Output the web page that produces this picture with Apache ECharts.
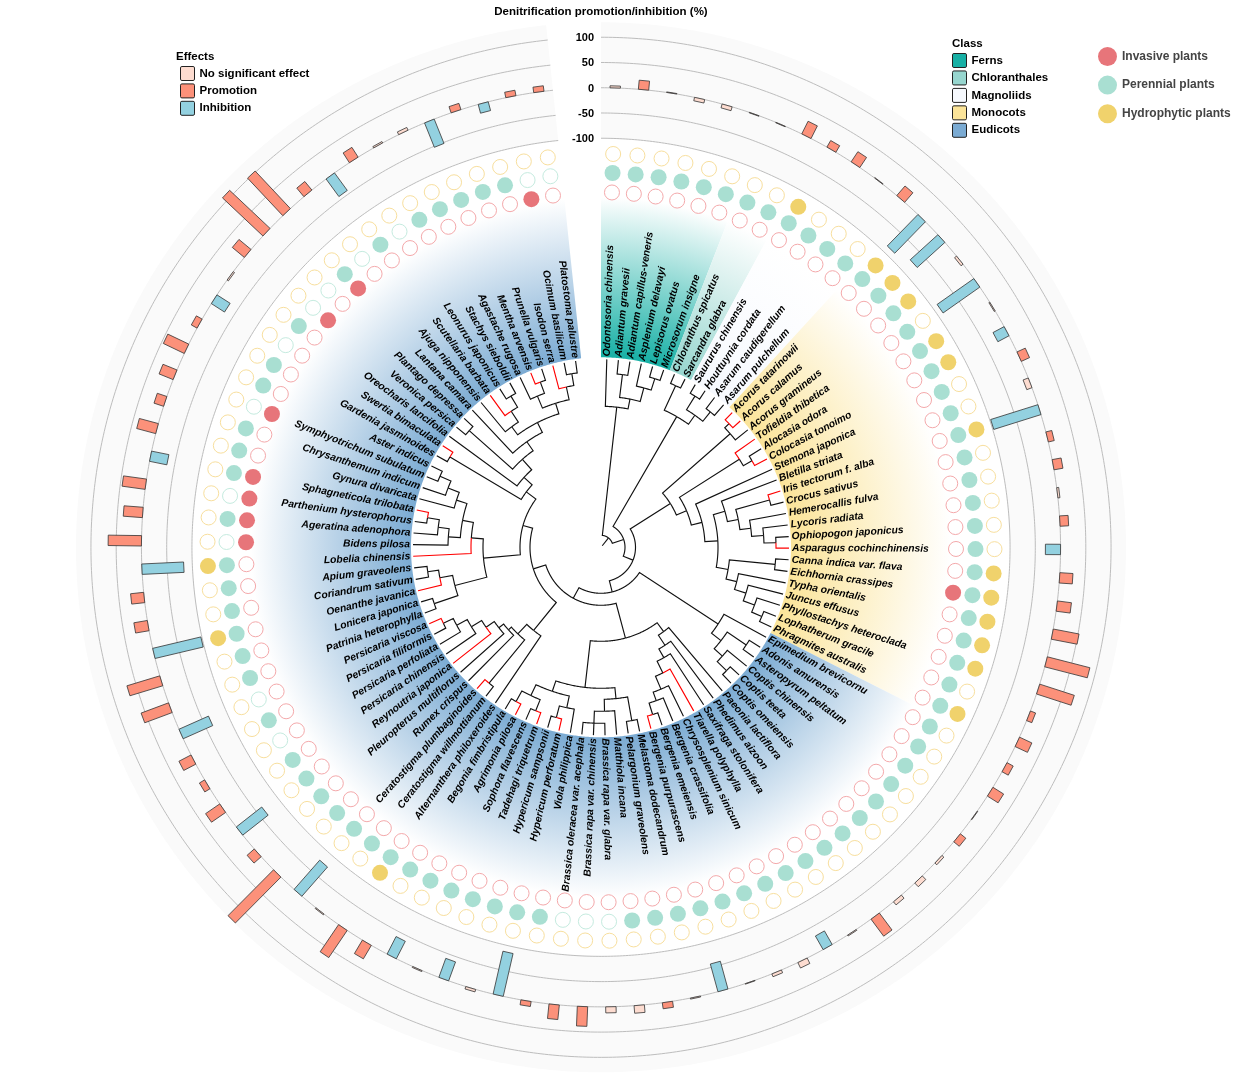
<!DOCTYPE html>
<html><head><meta charset="utf-8">
<style>html,body{margin:0;padding:0;background:#fff}#c{width:1258px;height:1074px}</style>
<script src="https://cdn.jsdelivr.net/npm/echarts@6/dist/echarts.min.js"></script>
</head><body><div id="c"></div>
<script>
const ferns=['Odontosoria chinensis','Adiantum gravesii','Adiantum capillus-veneris','Asplenium delavayi','Lepisorus ovatus','Microsorum insigne'];
const chloranthales=['Chloranthus spicatus','Sarcandra glabra'];
const magnoliids=['Saururus chinensis','Houttuynia cordata','Asarum caudigerellum','Asarum pulchellum'];
const monocots=['Acorus tatarinowii','Acorus calamus','Acorus gramineus','Tofieldia thibetica','Alocasia odora','Colocasia tonoimo','Stemona japonica','Bletilla striata','Iris tectorum f. alba','Crocus sativus','Hemerocallis fulva','Lycoris radiata','Ophiopogon japonicus','Asparagus cochinchinensis','Canna indica var. flava','Eichhornia crassipes','Typha orientalis','Juncus effusus','Phyllostachys heteroclada','Lophatherum gracile','Phragmites australis'];
const eudicots=['Epimedium brevicornu','Adonis amurensis','Asteropyrum peltatum','Coptis chinensis','Coptis teeta','Coptis omeiensis','Paeonia lactiflora','Phedimus aizoon','Saxifraga stolonifera','Tiarella polyphylla','Chrysosplenium sinicum','Bergenia crassifolia','Bergenia emeiensis','Bergenia purpurascens','Melastoma dodecandrum','Pelargonium graveolens','Matthiola incana','Brassica rapa var. glabra','Brassica rapa var. chinensis','Brassica oleracea var. acephala','Viola philippica','Hypericum perforatum','Hypericum sampsonii','Tadehagi triquetrum','Sophora flavescens','Agrimonia pilosa','Begonia fimbristipula','Alternanthera philoxeroides','Ceratostigma willmottianum','Ceratostigma plumbaginoides','Rumex crispus','Pleuropterus multiflorus','Reynoutria japonica','Persicaria chinensis','Persicaria perfoliata','Persicaria filiformis','Persicaria viscosa','Patrinia heterophylla','Lonicera japonica','Oenanthe javanica','Coriandrum sativum','Apium graveolens','Lobelia chinensis','Bidens pilosa','Ageratina adenophora','Parthenium hysterophorus','Sphagneticola trilobata','Gynura divaricata','Chrysanthemum indicum','Symphyotrichum subulatum','Aster indicus','Gardenia jasminoides','Swertia bimaculata','Oreocharis lancifolia','Veronica persica','Plantago depressa','Lantana camara','Ajuga nipponensis','Scutellaria barbata','Leonurus japonicus','Stachys sieboldii','Agastache rugosa','Mentha arvensis','Prunella vulgaris','Isodon serra','Ocimum basilicum','Platostoma palustre'];

// denitrification effect (%) per taxon
const effectValues=[4,18,1,-7,-8,-1,-1,28,15,24,1,25,-87,-74,-5,-89,-2,-25,18,-11,-98,12,18,4,17,-30,26,28,52,87,72,11,27,14,25,1,14,5,10,8,42,2,-31,12,6,1,-57,2,12,15,12,39,29,10,-87,5,-40,2,-39,31,65,2,-77,128,19,-64,34,12,27,-64,58,68,-98,27,26,-83,66,38,46,-35,39,20,30,46,13,-31,-3,31,110,102,22,-43,23,3,6,-52,13,-18,11,11];
const noEffect=[0,2,3,4,5,6,10,14,16,19,23,35,37,38,39,41,43,44,45,47,49,50,55,57,61,86,93,94];
const inhibited=[12,13,15,17,20,25,42,46,54,56,58,62,65,69,72,75,79,85,91,95,97];

const invasive=[27,76,77,78,79,82,87,89,98];
const notPerennial=[50,51,52,67,69,76,78,82,85,87,88,90,92,98,99];
const hydrophytic=[8,12,13,14,16,17,20,26,27,28,29,30,32,60,72,75];
const gridValues=[-100,-50,0,50,100];

// phylogeny: [node depth, ...children]; an integer child is a taxon index
const treeRoot=[12,
 [141,0,[151,[174,1,2],[165,3,[177,4,5]]]],
 [24,
  [151,[178,6,7],[162,[178,8,9],[174,10,11]]],
  [34.5,
   [82,
    [172,[178,12,13],14],
    [93,
     [164,15,[174,16,17]],
     [104,18,
      [117,
       [129,19,[140,[175,20,21],[151,22,[163,23,[175,24,25]]]]],
       [129,[175,26,27],[140,28,[152,29,[164,30,[175,31,32]]]]]
      ]]]],
   [46,
    [140,33,[152,[175,34,35],[163,36,[176,37,38]]]],
    [58,
     [94,
      [105,39,[117,40,[127,41,[140,42,[154,43,[163,44,[175,45,46]]]]]]],
      [141,
       [152,[176,47,48],[164,49,[176,50,51,52]]],
       [152,[164,53,[176,54,55]],[164,[176,56,57],[176,58,59]]]
      ]],
     [71,
      [107,60,[120,[176,61,62],[124,63,[130,64,[140,65,[152,66,[164,67,[175,68,69]]]]]]]],
      [81,
       [118,
        [151,[176,70,71],[164,72,[175,73,74]]],
        [130,75,[141,[153,76,[164,77,[176,78,79]]],[152,80,[164,81,[176,82,83]]]]]
       ],
       [93,[176,84,85],[104,86,[118,[176,87,88],[129,89,[140,[150,90,[163,91,[176,92,93]]],[151,[164,94,[176,95,96]],[164,97,[176,98,99]]]]]]]]
      ]]]]]]];
const redBranches=[12,13,15,17,20,25,42,46,54,56,58,62,65,69,72,75,79,85,91,95,97];

const taxa=[...ferns,...chloranthales,...magnoliids,...monocots,...eudicots];
const N=taxa.length, SLOTS=N*360/354;
const TIP=188, LABEL=191, CIRC=[355,374.5,393.5], WEDGE=[190,350];
const FILL={Ferns:'#17b0a5',Chloranthales:'#97d6cf',Magnoliids:'#f6f9fe',Monocots:'#fbe499',Eudicots:'#7babd3'};
const groups=[['Ferns',ferns],['Chloranthales',chloranthales],['Magnoliids',magnoliids],['Monocots',monocots],['Eudicots',eudicots]];
const LBL='"Liberation Sans",Arial,sans-serif';
const SWATCH='path://M2,0H18Q20,0 20,2V18Q20,20 18,20H2Q0,20 0,18V2Q0,0 2,0Z';

const branches=[];
function walk(n){
  if(typeof n==='number') return {r:TIP,a:n+.5,tip:n};
  const kids=n.slice(1).map(walk);
  const a=(kids[0].a+kids[kids.length-1].a)/2;
  kids.forEach(k=>branches.push([k.r,k.a,n[0],a,k.tip!==undefined&&redBranches.includes(k.tip)?1:0]));
  return {r:n[0],a};
}
const rootNode=walk(treeRoot);
branches.push([rootNode.r,rootNode.a,2,rootNode.a,0]);
branches.sort((x,y)=>x[4]-y[4]);

function arc(api,r,a0,a1){
  const pts=[],n=Math.max(2,Math.ceil(Math.abs(a1-a0)/0.12));
  for(let i=0;i<=n;i++) pts.push(api.coord([r,a0+(a1-a0)*i/n]));
  return pts;
}
const P1={coordinateSystem:'polar',polarIndex:1,silent:true,animation:false};
const P0={coordinateSystem:'polar',polarIndex:0,silent:true,animation:false};

function barSeries(name,color,ids){
  return Object.assign({},P0,{type:'custom',name,z:5,itemStyle:{color,borderColor:'#333'},
    data:ids.map(i=>[effectValues[i],i+.5]),
    renderItem:(p,api)=>{
      const a=api.coord([0,api.value(1)]),b=api.coord([api.value(0),api.value(1)]);
      let dx=b[0]-a[0],dy=b[1]-a[1];const l=Math.hypot(dx,dy)||1;dx/=l;dy/=l;
      const w=5.2,nx=-dy*w,ny=dx*w;
      return {type:'polygon',shape:{points:[[a[0]+nx,a[1]+ny],[b[0]+nx,b[1]+ny],[b[0]-nx,b[1]-ny],[a[0]-nx,a[1]-ny]]},
        style:{fill:color,stroke:'#333',lineWidth:.8}};
    }});
}
function dots(name,ids,rad,color){
  return Object.assign({},P1,{type:'scatter',name,z:5,symbolSize:16,
    itemStyle:{color,borderWidth:0,opacity:1},data:ids.map(i=>[rad,i+.5])});
}
function rings(ids,rad,color){
  return Object.assign({},P1,{type:'scatter',z:5,symbolSize:15,
    itemStyle:{color:'rgba(255,255,255,0)',borderColor:color,borderWidth:1,opacity:1},data:ids.map(i=>[rad,i+.5])});
}
const all=taxa.map((_,i)=>i);
const notIn=l=>all.filter(i=>!l.includes(i));
const promo=all.filter(i=>!noEffect.includes(i)&&!inhibited.includes(i));
const perennial=notIn(notPerennial);

let start=0;
const wedgeSeries=groups.map(([name,list])=>{
  const s=start,e=start+list.length;start=e;
  const color=FILL[name];
  return Object.assign({},P1,{type:'custom',name,z:2,itemStyle:{color,borderColor:'#222'},data:[[s,e]],
    renderItem:(p,api)=>{
      const a0=api.value(0),a1=api.value(1),cs=p.coordSys;
      const pts=arc(api,WEDGE[1],a0,a1).concat(arc(api,WEDGE[0],a1,a0));
      return {type:'polygon',shape:{points:pts},style:{lineWidth:0,fill:{type:'radial',x:cs.cx,y:cs.cy,r:WEDGE[1],global:true,
        colorStops:[{offset:0,color},{offset:WEDGE[0]/WEDGE[1],color},{offset:1,color:'#ffffff'}]}}};
    }});
});

const series=[
  Object.assign({},P0,{type:'custom',z:1,data:[[-100,129.6]],renderItem:(p,api)=>{
    const pts=arc(api,api.value(1),0,N).concat(arc(api,api.value(0),N,0));
    return {type:'polygon',shape:{points:pts},style:{fill:'#fafafa'}};
  }}),
  Object.assign({},P0,{type:'custom',z:3,data:gridValues.map(v=>[v]),renderItem:(p,api)=>(
    {type:'polyline',shape:{points:arc(api,api.value(0),0,N)},style:{fill:null,stroke:'#bdbdbd',lineWidth:1}})}),
  Object.assign({},P0,{type:'custom',z:6,data:gridValues.map(v=>[v]),renderItem:(p,api)=>{
    const c=api.coord([api.value(0),SLOTS]);
    return {type:'text',x:c[0]-7,y:c[1]+.8,style:{text:String(api.value(0)),fill:'#000',font:'bold 11px '+LBL,align:'right',verticalAlign:'middle'}};
  }}),
  ...wedgeSeries,
  barSeries('No significant effect','#fddcd0',noEffect),
  barSeries('Promotion','#fc917a',promo),
  barSeries('Inhibition','#93d1e0',inhibited),
  rings(notIn(invasive),CIRC[0],'#f4a9ab'),
  rings(notPerennial,CIRC[1],'#c5ebdf'),
  rings(notIn(hydrophytic),CIRC[2],'#f8df9e'),
  dots('Invasive plants',invasive,CIRC[0],'#e7757a'),
  dots('Perennial plants',perennial,CIRC[1],'#a9dfd2'),
  dots('Hydrophytic plants',hydrophytic,CIRC[2],'#f0d26c'),
  Object.assign({},P1,{type:'custom',z:7,data:branches,renderItem:(p,api)=>{
    const r=api.value(0),a=api.value(1),pr=api.value(2),pa=api.value(3),red=api.value(4);
    const pts=arc(api,pr,pa,a);pts.push(api.coord([r,a]));
    return {type:'polyline',shape:{points:pts},style:{fill:null,stroke:red?'#ff0000':'#111',lineWidth:1.15,lineJoin:'miter'}};
  }}),
  Object.assign({},P1,{type:'custom',z:8,data:taxa.map((t,i)=>[LABEL,i+.5]),renderItem:(p,api)=>{
    const s=api.value(1),c=api.coord([api.value(0),s]),deg=s*360/SLOTS,left=deg>180;
    const rot=(left?270-deg:90-deg)*Math.PI/180;
    return {type:'text',x:c[0],y:c[1],rotation:rot,style:{text:taxa[p.dataIndex],fill:'#000',
      font:'italic bold 10.3px '+LBL,align:left?'right':'left',verticalAlign:'middle'}};
  }})
];
const legTxt={color:'#000',fontSize:11.5,fontWeight:'bold',fontFamily:'Liberation Sans'};
const ttl={fontWeight:'bold',fontFamily:'Liberation Sans',color:'#000'};
const opt={animation:false,backgroundColor:'#fff',
  title:[
   {text:'Denitrification promotion/inhibition (%)',left:601,top:5.5,textAlign:'center',textStyle:Object.assign({fontSize:11.5},ttl),padding:0},
   {text:'Effects',left:176,top:51,textStyle:Object.assign({fontSize:11.5},ttl),padding:0},
   {text:'Class',left:952,top:38,textStyle:Object.assign({fontSize:11.5},ttl),padding:0}
  ],
  legend:[
   {data:['No significant effect','Promotion','Inhibition'],orient:'vertical',left:180,top:66,padding:0,itemWidth:14,itemHeight:14,itemGap:2.4,icon:SWATCH,selectedMode:false,textStyle:legTxt,itemStyle:{borderColor:'#222',borderWidth:1}},
   {data:groups.map(g=>g[0]),orient:'vertical',left:952,top:53,padding:0,itemWidth:14,itemHeight:14.5,itemGap:2.45,icon:SWATCH,selectedMode:false,textStyle:legTxt,itemStyle:{borderColor:'#222',borderWidth:1}},
   {data:['Invasive plants','Perennial plants','Hydrophytic plants'],orient:'vertical',left:1098,top:47,padding:0,itemWidth:19,itemHeight:19,itemGap:9.6,icon:'circle',selectedMode:false,textStyle:{color:'#444',fontSize:12,fontWeight:'bold',fontFamily:'Liberation Sans'}}
  ],
  polar:[{center:[601,547.3],radius:525},{center:[601,547.3],radius:525}],
  angleAxis:[
   {polarIndex:0,type:'value',min:0,max:SLOTS,startAngle:90,show:false},
   {polarIndex:1,type:'value',min:0,max:SLOTS,startAngle:90,show:false}],
  radiusAxis:[
   {polarIndex:0,type:'value',min:-910,max:129.6,show:false},
   {polarIndex:1,type:'value',min:0,max:525,show:false}],
  series
};
echarts.init(document.getElementById('c')).setOption(opt);
</script></body></html>
